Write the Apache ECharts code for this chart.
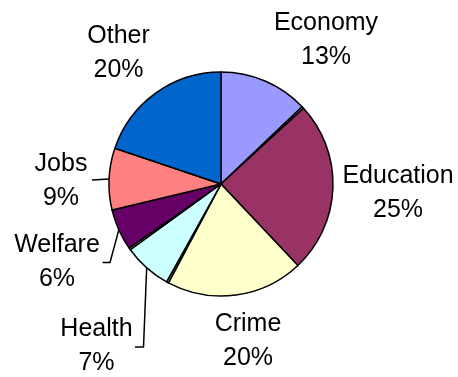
<!DOCTYPE html>
<html>
<head>
<meta charset="utf-8">
<style>
  html, body { margin: 0; padding: 0; background: #fff; }
  #chart { width: 458px; height: 377px; }
</style>
<script src="https://cdn.jsdelivr.net/npm/echarts@6/dist/echarts.min.js"></script>
</head>
<body>
<div id="chart"></div>
<script>
// Share of responses by topic (percent). The unnamed entries are tiny
// residual categories drawn as hairline wedges without labels.
const categories = ['Economy', 'Minor A', 'Education', 'Crime', 'Minor B', 'Health', 'Minor C', 'Welfare', 'Jobs', 'Other'];
const shares     = [13, 0.3, 25, 20, 0.3, 7, 0.3, 6, 9, 20];
const labelled   = [true, false, true, true, false, true, false, true, true, true];

const sliceColors = {
  Economy: '#9999FF', Education: '#993366', Crime: '#FFFFCC', Health: '#CCFFFF',
  Welfare: '#660066', Jobs: '#FF8080', Other: '#0066CC'
};
const minorColor = '#9A9A9A';

// Label anchor points (block centre) and leader-line routing.
const labelAnchor = {
  Economy: [326, 40], Education: [398, 193], Crime: [248, 341], Health: [96.5, 346],
  Welfare: [57, 262.5], Jobs: [61, 181.5], Other: [118.5, 53.5]
};
const leaderTail = {
  Jobs: [[92, 180]],
  Welfare: [[110, 262.5], [102.5, 262.5]],
  Health: [[143.5, 347], [135, 347]]
};

const data = categories.map((name, i) => ({
  name,
  value: shares[i],
  itemStyle: { color: sliceColors[name] || minorColor },
  label: { show: labelled[i] },
  labelLine: { show: !!leaderTail[name] }
}));

const chart = echarts.init(document.getElementById('chart'), null, { renderer: 'canvas' });
chart.setOption({
  backgroundColor: '#ffffff',
  animation: false,
  series: [{
    type: 'pie',
    center: [221, 184],
    radius: 112,
    startAngle: 90,
    clockwise: true,
    avoidLabelOverlap: false,
    data,
    itemStyle: { borderColor: '#000000', borderWidth: 1.5 },
    emphasis: { disabled: true },
    label: {
      position: 'outside',
      formatter: '{b}\n{c}%',
      fontFamily: 'Liberation Sans, Arial, sans-serif',
      fontSize: 25,
      lineHeight: 34,
      color: '#000000',
      align: 'center'
    },
    labelLine: {
      show: false,
      smooth: false,
      lineStyle: { color: '#000000', width: 1.5 }
    },
    labelLayout: function (params) {
      const name = categories[params.dataIndex];
      const anchor = labelAnchor[name];
      if (!anchor) return {};
      const out = { x: anchor[0], y: anchor[1], align: 'center', verticalAlign: 'middle' };
      const tail = leaderTail[name];
      if (tail && params.labelLinePoints && params.labelLinePoints[0]) {
        out.labelLinePoints = [params.labelLinePoints[0]].concat(tail);
      }
      return out;
    }
  }]
});
</script>
</body>
</html>
